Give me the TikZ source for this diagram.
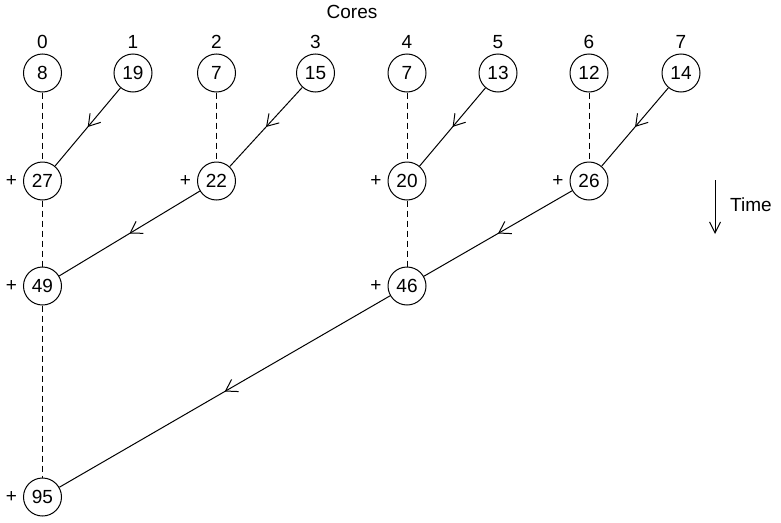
\documentclass[tikz,border=0pt]{standalone}
\usepackage{fontspec}
\setmainfont{Liberation Sans}
\usetikzlibrary{decorations.markings,arrows.meta}
\tikzset{
  core/.style={circle,draw,line width=1pt,minimum size=38pt,inner sep=0pt,font=\fontsize{19}{22}\selectfont},
  txt/.style={inner sep=0pt,font=\fontsize{19}{22}\selectfont},
  tiparrow/.tip={Straight Barb[length=11pt,width=14pt,line width=1pt]},
  midarrow/.style={line width=1pt,postaction={decorate},decoration={markings,mark=at position 0.5 with {\arrow{tiparrow}}}},
  waitline/.style={line width=1pt,dash pattern=on 6pt off 4pt},
}
\begin{document}
\begin{tikzpicture}[x=1pt,y=-1pt]
\useasboundingbox (0,0) rectangle (781,522);
\node[txt] (cores) at (352,12) {Cores};
% columns
\foreach \i/\x in {0/42.5,1/133,2/216.5,3/315.5,4/407,5/498,6/589,7/681}{
  \node[txt] (c\i) at (\x,42) {\i};
}
% row 0
\node[core] (a0) at (42.5,73) {8};
\node[core] (a1) at (133,73) {19};
\node[core] (a2) at (216.5,73) {7};
\node[core] (a3) at (315.5,73) {15};
\node[core] (a4) at (407,73) {7};
\node[core] (a5) at (498,73) {13};
\node[core] (a6) at (589,73) {12};
\node[core] (a7) at (681,73) {14};
% row 1
\node[core] (b0) at (42.5,181) {27};
\node[core] (b2) at (216.5,181) {22};
\node[core] (b4) at (407,181) {20};
\node[core] (b6) at (589,181) {26};
% row 2
\node[core] (d0) at (42.5,286) {49};
\node[core] (d4) at (407,286) {46};
% row 3
\node[core] (e0) at (42.5,497) {95};
% plus signs
\foreach \n in {b0,b2,b4,b6,d0,d4,e0}{
  \node[txt,anchor=center] (p\n) at ([xshift=-31pt]\n.center) {+};
}
% dashed waits
\draw[waitline] (a0) -- (b0);
\draw[waitline] (a2) -- (b2);
\draw[waitline] (a4) -- (b4);
\draw[waitline] (a6) -- (b6);
\draw[waitline] (b0) -- (d0);
\draw[waitline] (b4) -- (d4);
\draw[waitline] (d0) -- (e0);
% sends
\draw[midarrow] (a1) -- (b0);
\draw[midarrow] (a3) -- (b2);
\draw[midarrow] (a5) -- (b4);
\draw[midarrow] (a7) -- (b6);
\draw[midarrow] (b2) -- (d0);
\draw[midarrow] (b6) -- (d4);
\draw[midarrow] (d4) -- (e0);
% time
\coordinate (t1) at (715,180);
\coordinate (t2) at (715,234);
\draw[line width=1pt,-{Straight Barb[length=11pt,width=11pt,line width=1pt]}] (t1) -- (t2);
\node[txt,anchor=west] (time) at (730,205) {Time};
\end{tikzpicture}
\end{document}
